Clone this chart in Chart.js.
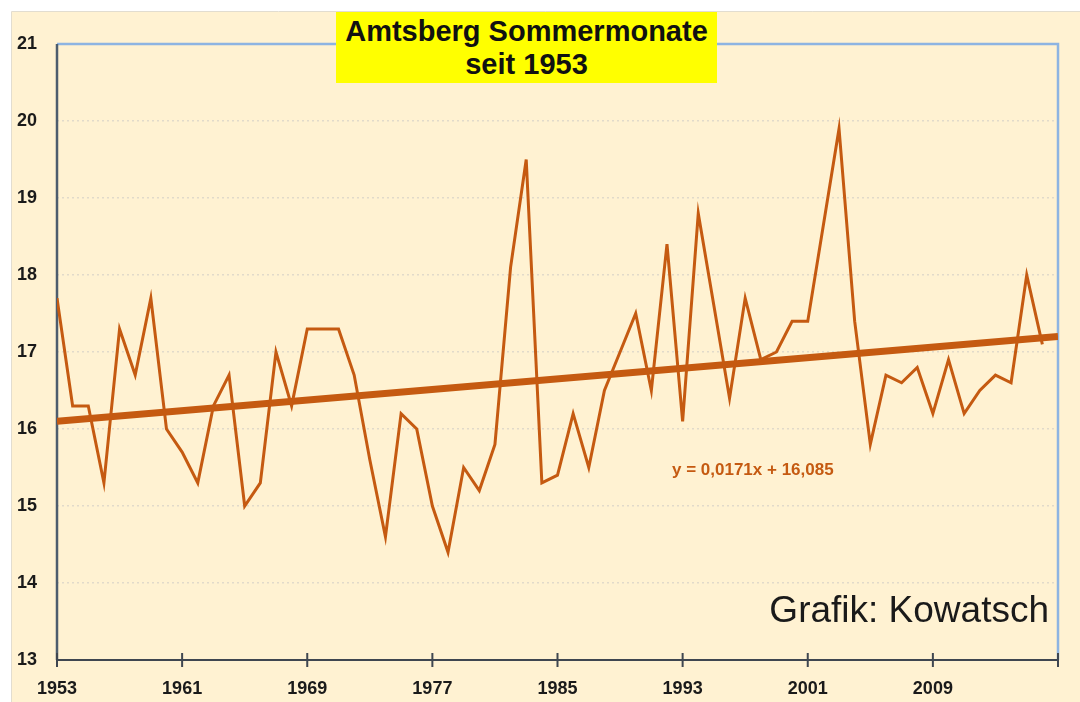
<!DOCTYPE html>
<html>
<head>
<meta charset="utf-8">
<script src="https://cdn.jsdelivr.net/npm/chart.js@4/dist/chart.umd.min.js"></script>
<style>
    body { margin: 0; background: #ffffff; }
    #wrap { position: relative; width: 1080px; height: 702px; }
    #title {
        position: absolute; left: 336px; top: 12px; width: 381px; height: 71px;
        background: #ffff00; color: #111111; text-align: center;
        font: bold 29px "Liberation Sans", Arial, sans-serif; line-height: 33px;
        padding-top: 3px; box-sizing: border-box; white-space: nowrap;
    }
</style>
</head>
<body>
<div id="wrap">
    <canvas id="chart" width="1080" height="702"></canvas>
    <div id="title">Amtsberg Sommermonate<br>seit 1953</div>
</div>
<script>
// summer mean temperature, Amtsberg, 1953..2016
const years = [];
for (let y = 1953; y <= 2016; y++) years.push(y);

const temps = [
    17.7, 16.3, 16.3, 15.3, 17.3, 16.7, 17.7, 16.0, 15.7, 15.3,
    16.3, 16.7, 15.0, 15.3, 17.0, 16.3, 17.3, 17.3, 17.3, 16.7,
    15.6, 14.6, 16.2, 16.0, 15.0, 14.4, 15.5, 15.2, 15.8, 18.1,
    19.5, 15.3, 15.4, 16.2, 15.5, 16.5, 17.0, 17.5, 16.5, 18.4,
    16.1, 18.8, 17.6, 16.4, 17.7, 16.9, 17.0, 17.4, 17.4, 18.65,
    19.9, 17.4, 15.8, 16.7, 16.6, 16.8, 16.2, 16.9, 16.2, 16.5,
    16.7, 16.6, 18.0, 17.1
];

// linear trend as drawn (ends of the line)
const trendYears = [1953, 2017];
const trendTemps = [16.10, 17.20];

const xTicks = [1953, 1961, 1969, 1977, 1985, 1993, 2001, 2009, 2017];
const equation = 'y = 0,0171x + 16,085';
const credit = 'Grafik: Kowatsch';

const lineColor = '#c55a11';
const cream = '#fff2d2';

const frame = {
    id: 'frame',
    beforeDraw(chart) {
        const ctx = chart.ctx;
        ctx.save();
        ctx.fillStyle = '#ffffff';
        ctx.fillRect(0, 0, chart.width, chart.height);
        ctx.fillStyle = cream;
        ctx.fillRect(12, 12, chart.width - 12, chart.height - 12);
        ctx.strokeStyle = '#e2ddd0';
        ctx.lineWidth = 1;
        ctx.beginPath();
        ctx.moveTo(11.5, chart.height);
        ctx.lineTo(11.5, 11.5);
        ctx.lineTo(chart.width, 11.5);
        ctx.stroke();
        ctx.restore();
    },
    beforeDatasetsDraw(chart) {
        const ctx = chart.ctx;
        const a = chart.chartArea;
        const xs = chart.scales.x;
        ctx.save();
        ctx.lineWidth = 2.5;
        ctx.strokeStyle = '#8db4e2';
        ctx.beginPath();
        ctx.moveTo(a.left, a.top);
        ctx.lineTo(a.right, a.top);
        ctx.lineTo(a.right, a.bottom);
        ctx.stroke();
        ctx.strokeStyle = '#4d5d6e';
        ctx.beginPath();
        ctx.moveTo(a.left, a.top);
        ctx.lineTo(a.left, a.bottom);
        ctx.stroke();
        ctx.strokeStyle = '#3f4650';
        ctx.lineWidth = 2;
        ctx.beginPath();
        ctx.moveTo(a.left, a.bottom);
        ctx.lineTo(a.right, a.bottom);
        xTicks.forEach(function (t) {
            const px = xs.getPixelForValue(t);
            ctx.moveTo(px, a.bottom - 7);
            ctx.lineTo(px, a.bottom + 7);
        });
        ctx.stroke();
        ctx.restore();
    },
    afterDraw(chart) {
        const ctx = chart.ctx;
        ctx.save();
        ctx.fillStyle = lineColor;
        ctx.font = 'bold 17px "Liberation Sans", Arial, sans-serif';
        ctx.textBaseline = 'alphabetic';
        ctx.fillText(equation, 672, 475);
        ctx.fillStyle = '#1a1a1a';
        ctx.font = '37px "Liberation Sans", Arial, sans-serif';
        ctx.textAlign = 'right';
        ctx.fillText(credit, 1049, 622);
        ctx.restore();
    }
};

const ctx = document.getElementById('chart').getContext('2d');
const chart = new Chart(ctx, {
    type: 'line',
    data: {
        datasets: [{
            label: 'Sommer',
            data: years.map(function (y, i) { return { x: y, y: temps[i] }; }),
            borderColor: lineColor,
            borderWidth: 3,
            pointRadius: 0,
            tension: 0
        }, {
            label: 'Trend',
            data: trendYears.map(function (y, i) { return { x: y, y: trendTemps[i] }; }),
            borderColor: lineColor,
            borderWidth: 7,
            pointRadius: 0,
            tension: 0
        }]
    },
    options: {
        responsive: false,
        animation: false,
        devicePixelRatio: 1,
        layout: { padding: { top: 44, right: 22, left: 0, bottom: 0 } },
        plugins: {
            legend: { display: false },
            tooltip: { enabled: false }
        },
        scales: {
            x: {
                type: 'linear',
                min: 1953,
                max: 2017,
                afterFit: function (s) { s.height = 42; },
                afterBuildTicks: function (s) {
                    s.ticks = xTicks.map(function (v) { return { value: v }; });
                },
                grid: { display: false, drawTicks: false },
                border: { display: false },
                ticks: {
                    padding: 18,
                    color: '#1a1a1a',
                    font: { family: '"Liberation Sans", Arial, sans-serif', size: 18, weight: 'bold' },
                    maxRotation: 0,
                    autoSkip: false,
                    callback: function (v) { return v === 2017 ? '' : String(v); }
                }
            },
            y: {
                min: 13,
                max: 21,
                afterFit: function (s) { s.width = 57; },
                grid: {
                    color: 'rgba(170, 175, 190, 0.35)',
                    lineWidth: 1.5,
                    drawTicks: false
                },
                border: { display: false, dash: [2, 3] },
                ticks: {
                    stepSize: 1,
                    padding: 20,
                    color: '#1a1a1a',
                    font: { family: '"Liberation Sans", Arial, sans-serif', size: 18, weight: 'bold' }
                }
            }
        }
    },
    plugins: [frame]
});
</script>
</body>
</html>
